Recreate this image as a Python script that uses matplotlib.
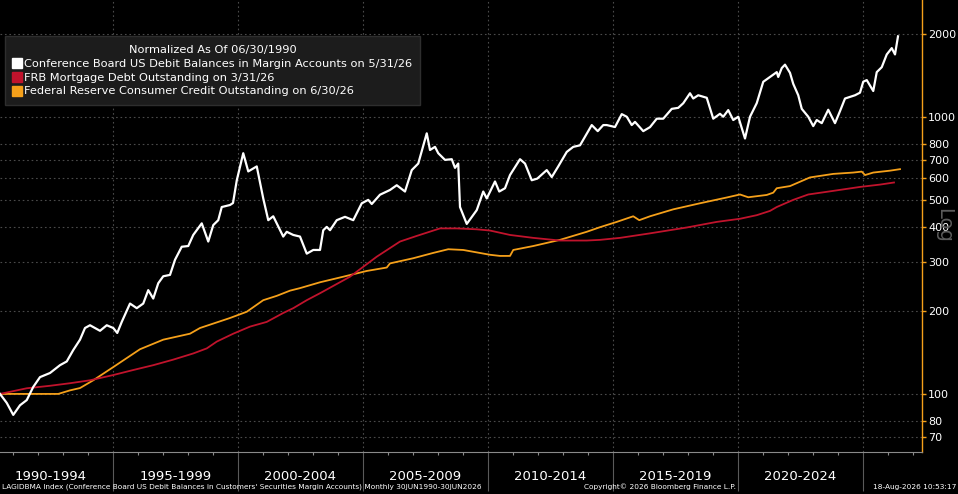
import matplotlib
matplotlib.use("Agg")
import matplotlib.pyplot as plt
from matplotlib.lines import Line2D
from matplotlib.ticker import FixedLocator, NullFormatter
import matplotlib.transforms as mtransforms

# Conference Board US debit balances in margin accounts (normalized, 06/30/1990 = 100)
margin_years = [1990.49, 1990.76, 1991.02, 1991.29, 1991.56, 1991.82, 1992.09, 1992.49, 1992.89, 1993.16,
                1993.42, 1993.69, 1993.89, 1994.09, 1994.49, 1994.76, 1995.02, 1995.18, 1995.36, 1995.69,
                1995.96, 1996.22, 1996.42, 1996.62, 1996.82, 1997.02, 1997.29, 1997.49, 1997.76, 1998.02,
                1998.22, 1998.56, 1998.82, 1999.02, 1999.22, 1999.36, 1999.69, 1999.81, 1999.96, 2000.22,
                2000.42, 2000.76, 2001.02, 2001.22, 2001.42, 2001.82, 2001.96, 2002.22, 2002.49, 2002.76,
                2003.02, 2003.29, 2003.42, 2003.56, 2003.69, 2003.96, 2004.29, 2004.62, 2004.96, 2005.22,
                2005.36, 2005.69, 2006.09, 2006.36, 2006.69, 2006.96, 2007.22, 2007.56, 2007.69, 2007.89,
                2008.02, 2008.29, 2008.56, 2008.69, 2008.82, 2008.89, 2009.16, 2009.56, 2009.82, 2009.96,
                2010.29, 2010.46, 2010.69, 2010.89, 2011.29, 2011.49, 2011.76, 2011.98, 2012.36, 2012.56,
                2012.82, 2013.16, 2013.42, 2013.69, 2014.16, 2014.40, 2014.62, 2014.76, 2015.09, 2015.36,
                2015.56, 2015.76, 2015.89, 2016.22, 2016.49, 2016.76, 2017.02, 2017.36, 2017.62, 2017.82,
                2018.09, 2018.22, 2018.42, 2018.76, 2019.02, 2019.29, 2019.42, 2019.62, 2019.82, 2020.02,
                2020.29, 2020.49, 2020.76, 2021.02, 2021.29, 2021.56, 2021.62, 2021.76, 2021.89, 2022.09,
                2022.22, 2022.42, 2022.56, 2022.82, 2023.02, 2023.16, 2023.36, 2023.62, 2023.89, 2024.09,
                2024.29, 2024.49, 2024.69, 2024.89, 2025.02, 2025.16, 2025.42, 2025.56, 2025.76, 2025.96,
                2026.16, 2026.29, 2026.41]
margin_vals = [100, 92.8, 84, 91, 95, 106, 115, 119, 127, 131,
               144, 157, 173, 177, 169, 177, 173, 166, 182, 212,
               204, 212, 237, 221, 251, 266, 269, 305, 340, 342,
               375, 413, 355, 407, 424, 473, 481, 489, 590, 740,
               636, 663, 508, 424, 438, 370, 385, 375, 370, 321,
               331, 331, 390, 401, 390, 424, 436, 424, 488, 502,
               485, 524, 545, 567, 538, 643, 679, 873, 760, 780,
               740, 700, 704, 655, 679, 473, 411, 461, 538, 508,
               585, 538, 553, 617, 704, 679, 591, 599, 643, 607,
               663, 748, 780, 790, 935, 889, 935, 935, 920, 1024,
               1002, 935, 960, 889, 919, 986, 986, 1070, 1079, 1121,
               1218, 1166, 1198, 1173, 986, 1027, 1002, 1059, 975, 1002,
               836, 1002, 1122, 1340, 1395, 1452, 1395, 1502, 1545, 1443,
               1317, 1198, 1070, 1002, 927, 975, 950, 1062, 950, 1050,
               1166, 1182, 1198, 1224, 1341, 1359, 1241, 1452, 1513, 1682,
               1773, 1682, 1955]

# FRB mortgage debt outstanding
mortgage_years = [1990.49, 1991.56, 1992.49, 1993.29, 1994.09, 1995.02, 1995.82, 1996.62, 1997.42, 1998.22,
                  1998.76, 1999.16, 1999.82, 2000.49, 2001.16, 2001.82, 2002.22, 2002.76, 2003.29, 2004.49,
                  2005.56, 2006.49, 2007.16, 2008.09, 2008.76, 2009.56, 2010.09, 2010.89, 2011.82, 2012.89,
                  2013.96, 2014.49, 2015.29, 2016.49, 2017.96, 2019.16, 2020.09, 2020.76, 2021.29, 2021.56,
                  2022.22, 2022.82, 2023.82, 2024.89, 2025.69, 2026.25]
mortgage_vals = [100, 104.8, 107, 109.3, 112, 117, 122, 127, 133, 140,
                 146, 154.5, 165, 175, 182, 196, 204, 218, 231, 265,
                 313, 355, 372, 396, 396, 393, 389, 375, 366, 358,
                 358, 360, 366, 380, 399, 418, 429, 442, 458, 473,
                 502, 525, 541, 559, 570, 580]

# Federal Reserve consumer credit outstanding
credit_years = [1990.49, 1991.82, 1992.82, 1993.29, 1993.69, 1994.22, 1995.02, 1996.09, 1997.02, 1998.09,
                1998.49, 1999.69, 2000.36, 2001.02, 2001.56, 2002.09, 2002.49, 2003.29, 2004.22, 2005.16,
                2005.96, 2006.09, 2007.02, 2007.82, 2008.42, 2009.02, 2010.09, 2010.49, 2010.89, 2011.02,
                2011.82, 2012.89, 2013.96, 2014.49, 2015.16, 2015.82, 2016.06, 2016.49, 2017.42, 2018.49,
                2019.56, 2020.09, 2020.42, 2021.16, 2021.42, 2021.56, 2022.09, 2022.89, 2023.82, 2024.62,
                2024.96, 2025.09, 2025.42, 2026.09, 2026.49]
credit_vals = [100, 100, 100, 103, 105, 112, 125, 145, 157, 165,
               173, 188, 198, 218, 226, 236, 241, 253, 265, 278,
               286, 296, 309, 323, 333, 331, 318, 315, 315, 331,
               342, 360, 385, 400, 418, 438, 424, 438, 464, 488,
               512, 525, 513, 523, 533, 553, 563, 605, 623, 630,
               635, 617, 630, 640, 648]

y_ticks = [70, 80, 100, 200, 300, 400, 500, 600, 700, 800, 1000, 2000]
period_labels = ["1990-1994", "1995-1999", "2000-2004", "2005-2009",
                 "2010-2014", "2015-2019", "2020-2024"]
period_starts = [1990, 1995, 2000, 2005, 2010, 2015, 2020]

legend_title = "Normalized As Of 06/30/1990"
legend_labels = ["Conference Board US Debit Balances in Margin Accounts on 5/31/26",
                 "FRB Mortgage Debt Outstanding on 3/31/26",
                 "Federal Reserve Consumer Credit Outstanding on 6/30/26"]

WHITE = "#ffffff"
RED = "#c0132c"
ORANGE = "#f5a01a"
GRID = "#4a4a4a"

plt.rcParams["font.family"] = ["DejaVu Sans"]

fig = plt.figure(figsize=(9.58, 4.94), dpi=100, facecolor="black")
ax = fig.add_axes([0, 1 - 452 / 494, 922 / 958, 452 / 494], facecolor="black")

ax.plot(credit_years, credit_vals, color=ORANGE, lw=1.3)
ax.plot(mortgage_years, mortgage_vals, color=RED, lw=1.3)
ax.plot(margin_years, margin_vals, color=WHITE, lw=1.6)

ax.set_yscale("log")
ax.set_ylim(61.7, 2645)
ax.set_xlim(1990.49, 2027.37)

# right axis
ax.yaxis.tick_right()
ax.yaxis.set_major_locator(FixedLocator(y_ticks))
ax.yaxis.set_minor_locator(FixedLocator([]))
ax.set_yticklabels([str(v) for v in y_ticks])
ax.tick_params(axis="y", which="major", colors=ORANGE, length=3, width=1,
               labelcolor="white", labelsize=8, pad=1.5)

# bottom axis: 5-year separators and yearly minor ticks
ax.xaxis.set_major_locator(FixedLocator(list(range(1995, 2030, 5))))
ax.xaxis.set_minor_locator(FixedLocator(list(range(1991, 2028))))
ax.xaxis.set_major_formatter(NullFormatter())
ax.tick_params(axis="x", which="major", direction="out", length=28, width=0.8, color="#5a5a5a")
ax.tick_params(axis="x", which="minor", direction="out", length=2.5, width=0.8, color="#8a8a8a")

for side in ["top", "left"]:
    ax.spines[side].set_visible(False)
ax.spines["right"].set_color(ORANGE)
ax.spines["right"].set_linewidth(1.0)
ax.spines["bottom"].set_color("#8a8a8a")
ax.spines["bottom"].set_linewidth(0.8)

ax.grid(True, which="major", color=GRID, linestyle=(0, (1.5, 2.5)), linewidth=0.8)
ax.set_axisbelow(True)

trans = mtransforms.blended_transform_factory(ax.transData, ax.transAxes)
for start, label in zip(period_starts, period_labels):
    ax.text(start + 2.5, -24 / 452, label, transform=trans, color="white",
            fontsize=9.5, ha="center", va="center")

# Log marker on the right, sitting behind the tick labels as in the original
fig.text(944 / 958, 1 - 225 / 494, "Log", color="#5c5c5c", fontsize=14,
         rotation=-90, ha="center", va="center", zorder=0)

handles = [Line2D([], [], linestyle="none", marker="s", markersize=7, color=c)
           for c in [WHITE, RED, ORANGE]]
leg = ax.legend(handles, legend_labels, title=legend_title, loc="upper left",
                bbox_to_anchor=(5 / 958, 1 - 36 / 494), bbox_transform=fig.transFigure,
                frameon=True, fancybox=False, facecolor="#1c1c1c", edgecolor="#2e2e2e",
                framealpha=1.0, fontsize=8.2, title_fontsize=8.2, labelcolor="white",
                handlelength=0.6, handletextpad=0.3, borderpad=0.75, labelspacing=0.35,
                borderaxespad=0)
leg.get_title().set_color("white")

# footer
fig.text(2 / 958, 4 / 494, "LAGIDBMA Index (Conference Board US Debit Balances in Customers' Securities "
         "Margin Accounts) Monthly 30JUN1990-30JUN2026", color="white", fontsize=5.3,
         ha="left", va="bottom")
fig.text(660 / 958, 4 / 494, "Copyright\u00a9 2026 Bloomberg Finance L.P.", color="white",
         fontsize=5.3, ha="center", va="bottom")
fig.text(956 / 958, 4 / 494, "18-Aug-2026 10:53:17", color="white", fontsize=5.3,
         ha="right", va="bottom")

fig.savefig("out.png", dpi=100, facecolor="black")
